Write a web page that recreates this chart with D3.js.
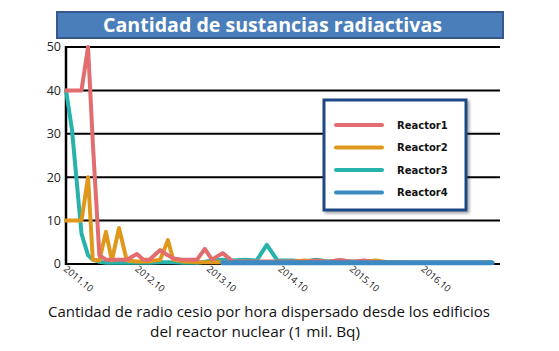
<!DOCTYPE html>
<html><head><meta charset="utf-8">
<script src="https://cdn.jsdelivr.net/npm/d3@7"></script>
<style>body{margin:0;background:#fff}svg{display:block}</style>
</head><body><svg id="c" width="559" height="351"></svg>
<script>
const title = "Cantidad de sustancias radiactivas";
const caption = ["Cantidad de radio cesio por hora dispersado desde los edificios", "del reactor nuclear (1 mil. Bq)"];
const seriesNames = ["Reactor1", "Reactor2", "Reactor3", "Reactor4"];
const colors = ["#e36c6e", "#e0981c", "#27b3ac", "#3b8bc2"];
const yTicks = [0, 10, 20, 30, 40, 50];
const xTickLabels = ["2011.10", "2012.10", "2013.10", "2014.10", "2015.10", "2016.10"];
// months since 2011.10
const months = [0, 1, 2.6, 3.7, 4.5, 5.6, 6.7, 7.7, 8.9, 10.2, 11.9, 13, 14, 15.8, 17.1, 18, 19.5, 21, 22, 23.3, 24.5, 26.3, 28, 30, 32, 33.7, 35.5, 38, 40, 42, 44, 46, 48, 50, 52, 54, 57, 60, 63, 66, 69, 71.5];
const reactor1 = [40, 40, 40, 50, 28, 2, 1, 1, 1, 1, 2.3, 1, 1, 3.2, 2, 1.3, 1, 1, 1, 3.5, 1, 2.5, 0.6, 0.6, 0.6, 0.6, 0.6, 0.6, 0.5, 0.8, 0.5, 0.9, 0.5, 0.8, 0.4, 0.4, 0.3, 0.3, 0.3, 0.3, 0.3, 0.3];
const reactor2 = [10, 10, 10, 20, 1, 0.8, 7.4, 0.8, 8.3, 0.8, 0.6, 0.6, 0.6, 1, 5.5, 1, 0.6, 0.5, 0.4, 0.4, 0.4, 0.4, 0.4, 0.4, 0.4, 0.4, 0.4, 0.5, 0.8, 0.5, 0.4, 0.4, 0.4, 0.5, 0.8, 0.4, 0.3, 0.3, 0.3, 0.3, 0.3, 0.3];
const reactor3 = [40, 31, 7, 2, 1, 0.5, 0.3, 0.3, 0.3, 0.3, 0.3, 0.3, 0.3, 0.4, 0.4, 0.4, 0.3, 0.3, 0.3, 0.5, 0.8, 1, 0.8, 1, 0.8, 4.4, 0.8, 0.8, 0.6, 1, 0.6, 0.8, 0.6, 0.4, 0.3, 0.3, 0.3, 0.3, 0.3, 0.3, 0.3, 0.3];
const reactor4 = [null, null, null, null, null, null, null, null, null, null, null, null, null, null, null, null, null, null, null, null, null, 0.3, 0.3, 0.3, 0.3, 0.3, 0.3, 0.3, 0.3, 0.3, 0.3, 0.3, 0.3, 0.3, 0.3, 0.3, 0.3, 0.3, 0.3, 0.3, 0.3, 0.3];
const series = [reactor1, reactor2, reactor3, reactor4];

const svg = d3.select("#c");
const x = d3.scaleLinear().domain([0, 71.5]).range([66, 492]);
const y = d3.scaleLinear().domain([0, 50]).range([264, 47]);

// title banner
svg.append("rect").attr("x", 57).attr("y", 12).attr("width", 446).attr("height", 26)
  .attr("fill", "#4a7ebb").attr("stroke", "#35598a").attr("stroke-width", 2);
svg.append("text").attr("x", 272.5).attr("y", 32).attr("text-anchor", "middle")
  .attr("font-family", "Open Sans").attr("font-weight", "bold").attr("font-size", 19)
  .attr("fill", "#fff").attr("textLength", 339).attr("lengthAdjust", "spacingAndGlyphs").text(title);

// gridlines
svg.append("g").selectAll("line").data(yTicks).join("line")
  .attr("x1", 66).attr("x2", 500).attr("y1", d => y(d)).attr("y2", d => y(d))
  .attr("stroke", "#000").attr("stroke-width", 2);
// y axis
svg.append("line").attr("x1", 66).attr("x2", 66).attr("y1", y(50) - 1).attr("y2", y(0) + 1)
  .attr("stroke", "#000").attr("stroke-width", 2.5);
svg.append("g").selectAll("text").data(yTicks).join("text")
  .attr("x", 61).attr("y", d => y(d)).attr("dy", "0.35em").attr("text-anchor", "end")
  .attr("font-family", "Open Sans").attr("font-size", 12.5).attr("fill", "#222").text(d => d);

// x tick labels
svg.append("g").selectAll("text").data(xTickLabels).join("text")
  .attr("transform", (d, i) => `translate(${x(i * 12) - 3},${270}) rotate(40)`)
  .attr("font-family", "Open Sans").attr("font-size", 9.5).attr("fill", "#222").text(d => d);

// lines
const line = d3.line().defined(d => d[1] != null).x(d => x(d[0])).y(d => y(d[1]));
const order = [2, 1, 0, 3];
svg.append("g").selectAll("path").data(order).join("path")
  .attr("d", i => line(months.map((m, k) => [m, series[i][k]])))
  .attr("fill", "none").attr("stroke", i => colors[i]).attr("stroke-width", i => i === 3 ? 5 : 4)
  .attr("stroke-linejoin", "round").attr("stroke-linecap", "round");

// legend
const defs = svg.append("defs");
const f = defs.append("filter").attr("id", "sh").attr("x", "-10%").attr("y", "-10%").attr("width", "130%").attr("height", "130%");
f.append("feDropShadow").attr("dx", 2).attr("dy", 2).attr("stdDeviation", 1.5).attr("flood-color", "#000").attr("flood-opacity", 0.35);
svg.append("rect").attr("x", 324).attr("y", 100).attr("width", 142).attr("height", 110)
  .attr("fill", "#fff").attr("stroke", "#1f4a85").attr("stroke-width", 3).attr("filter", "url(#sh)");
const lg = svg.append("g").selectAll("g").data(seriesNames).join("g")
  .attr("transform", (d, i) => `translate(0,${125 + i * 22.5})`);
lg.append("line").attr("x1", 336).attr("x2", 382).attr("stroke", (d, i) => colors[i])
  .attr("stroke-width", 4).attr("stroke-linecap", "round");
lg.append("text").attr("x", 397).attr("dy", "0.35em").attr("font-family", "DejaVu Sans")
  .attr("font-weight", "bold").attr("font-size", 10).attr("fill", "#111").text(d => d);

// caption
[269, 255].forEach((cx, i) => {
  svg.append("text").attr("x", cx).attr("y", 317 + i * 20).attr("text-anchor", "middle")
    .attr("font-family", "Open Sans").attr("font-size", 14).attr("fill", "#111")
    .attr("textLength", i === 0 ? 442 : 210).attr("lengthAdjust", "spacingAndGlyphs").text(caption[i]);
});
</script></body></html>
